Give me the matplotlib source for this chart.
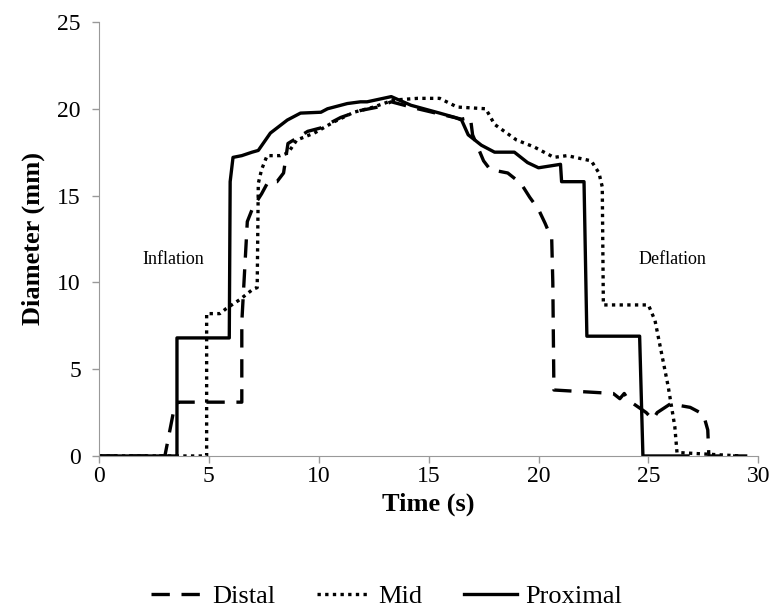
import matplotlib
matplotlib.use('Agg')
from matplotlib import pyplot as plt

# values
distal_t = [0, 3.0, 3.4, 3.6, 6.5, 6.5, 6.75, 7.0, 7.4, 7.7, 8.1, 8.4, 8.6, 9.5, 10.1, 11.0, 11.9,
            12.7, 13.3, 14.5, 15.5, 16.5, 16.9, 17.0, 17.5, 17.8, 18.6, 19.2, 19.6, 20.0, 20.3,
            20.6, 20.65, 20.7, 23.4, 23.7, 23.9, 24.1, 24.9, 25.2, 25.4, 26.0, 26.9, 27.5, 27.7,
            27.75, 29.5]
distal_d = [0, 0, 2.6, 3.1, 3.1, 7.7, 13.5, 14.3, 15.1, 15.8, 15.8, 16.3, 18.0, 18.7, 18.9, 19.5,
            19.9, 20.1, 20.4, 20.0, 19.7, 19.4, 19.5, 18.5, 17.0, 16.5, 16.3, 15.7, 14.9, 14.2,
            13.4, 12.5, 10.0, 3.8, 3.6, 3.3, 3.6, 3.2, 2.5, 2.1, 2.5, 3.0, 2.8, 2.4, 1.5, 0, 0]

mid_t = [0, 4.9, 4.9, 5.5, 5.8, 6.4, 7.0, 7.2, 7.25, 7.4, 7.65, 8.25, 8.6, 9.0, 9.8, 10.7, 11.6,
         12.5, 13.4, 14.5, 15.5, 16.3, 17.6, 18.0, 19.0, 19.8, 20.7, 21.3, 22.4, 22.75, 22.9,
         22.95, 25.0, 25.3, 25.6, 25.9, 26.2, 26.3, 29.2]
mid_d = [0, 0, 8.2, 8.2, 8.5, 9.0, 9.6, 9.7, 15.7, 16.5, 17.3, 17.3, 17.45, 18.2, 18.6, 19.25,
         19.8, 20.1, 20.5, 20.6, 20.6, 20.1, 20.0, 19.1, 18.2, 17.8, 17.2, 17.3, 17.0, 16.3,
         15.5, 8.7, 8.7, 7.8, 5.9, 4.0, 1.7, 0.2, 0]

prox_t = [0, 3.55, 3.55, 5.93, 5.97, 6.1, 6.5, 6.97, 7.25, 7.8, 8.57, 9.17, 10.1, 10.4, 11.3,
          11.9, 12.2, 13.3, 14.2, 15.5, 16.2, 16.5, 16.8, 17.4, 18.0, 18.9, 19.2, 19.5, 20.0,
          21.0, 21.05, 22.07, 22.2, 24.6, 24.75, 26.8]
prox_d = [0, 0, 6.8, 6.8, 15.8, 17.2, 17.3, 17.5, 17.6, 18.6, 19.35, 19.75, 19.8, 20.0, 20.3,
          20.4, 20.4, 20.7, 20.2, 19.75, 19.5, 19.35, 18.5, 17.9, 17.5, 17.5, 17.2, 16.9, 16.6,
          16.8, 15.8, 15.8, 6.9, 6.9, 0, 0]

plt.rcParams['font.family'] = 'Liberation Serif'

fig = plt.figure(figsize=(7.73, 6.10), dpi=100)
ax = fig.add_axes([0.128, 0.2525, 0.853, 0.7115])

ax.plot(distal_t, distal_d, color='black', linewidth=2.4, dashes=(5.5, 3.5), label='Distal')
ax.plot(mid_t, mid_d, color='black', linewidth=2.4, dashes=(1, 1.3), label='Mid')
ax.plot(prox_t, prox_d, color='black', linewidth=2.4, label='Proximal')

ax.set_xlim(0, 30)
ax.set_ylim(0, 25)
ax.set_xticks(range(0, 31, 5))
ax.set_yticks(range(0, 26, 5))
ax.tick_params(labelsize=17, length=5, color='#999999', width=1)
ax.tick_params(axis='x', pad=2)
ax.tick_params(axis='y', pad=8)
for side in ['top', 'right']:
    ax.spines[side].set_visible(False)
for side in ['left', 'bottom']:
    ax.spines[side].set_color('#999999')

ax.set_xlabel('Time (s)', fontsize=19, fontweight='bold', labelpad=4)
ax.set_ylabel('Diameter (mm)', fontsize=19, fontweight='bold', labelpad=9)

ax.text(3.4, 11.3, 'Inflation', fontsize=13, ha='center', va='center')
ax.text(26.1, 11.3, 'Deflation', fontsize=13, ha='center', va='center')

fig.legend(loc='center', bbox_to_anchor=(0.5, 0.022), ncol=3, frameon=False,
           fontsize=19, handlelength=2.0, columnspacing=1.6, handletextpad=0.3)

fig.savefig('out.png', dpi=100)
